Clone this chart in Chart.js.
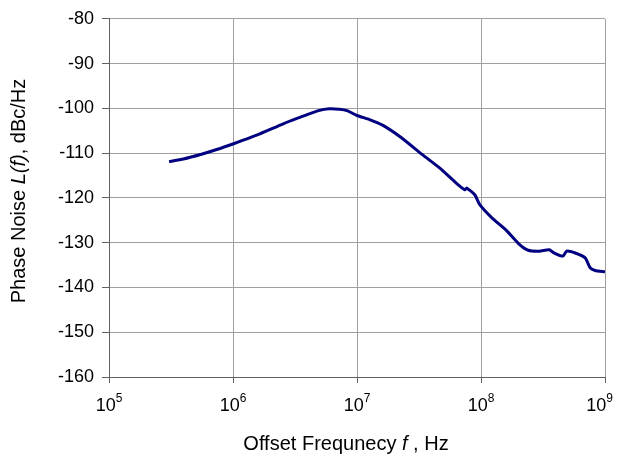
<!DOCTYPE html>
<html>
<head>
<meta charset="utf-8">
<script src="https://cdn.jsdelivr.net/npm/chart.js@4.4.1/dist/chart.umd.min.js"></script>
<style>
  html, body { margin: 0; padding: 0; background: #fff; }
  #wrap { width: 617px; height: 455px; position: relative; }
</style>
</head>
<body>
<div id="wrap"><canvas id="c" width="617" height="455"></canvas></div>
<script>
// ---- Data ----
const freqHz = [3.05e5, 3.98e5, 5.48e5, 7.4e5, 1.01e6, 1.55e6, 2.57e6, 3.72e6, 4.9e6, 6.0e6, 7.2e6, 8.3e6,
                1.0e7, 1.26e7, 1.62e7, 2.24e7, 3.39e7, 4.68e7, 6.31e7, 7.41e7, 7.67e7, 8.91e7, 9.77e7,
                1.23e8, 1.58e8, 2.04e8, 2.40e8, 2.95e8, 3.55e8, 3.89e8, 4.57e8, 4.9e8, 5.75e8, 6.92e8,
                7.59e8, 8.32e8, 1.0e9];
const phaseNoise = [-111.9, -111.3, -110.3, -109.2, -107.9, -106.0, -103.4, -101.7, -100.5, -100.1, -100.2, -100.5,
                    -101.6, -102.5, -103.8, -106.4, -110.4, -113.4, -116.7, -118.2, -117.8, -119.3, -121.5,
                    -124.5, -127.1, -130.4, -131.7, -131.9, -131.6, -132.3, -133.0, -131.9, -132.3, -133.4,
                    -135.6, -136.2, -136.5];
const xDecades = [5, 6, 7, 8, 9];
const yTicks = [-80, -90, -100, -110, -120, -130, -140, -150, -160];
const xTitleParts = [["Offset Frequnecy ", false], ["f", true], [" , Hz", false]];
const yTitleParts = [["Phase Noise ", false], ["L(f)", true], [", dBc/Hz", false]];

const FONT = '"Liberation Sans", Arial, sans-serif';

function drawParts(ctx, parts, size) {
  let total = 0;
  parts.forEach(([t, it]) => { ctx.font = (it ? 'italic ' : '') + size + 'px ' + FONT; total += ctx.measureText(t).width; });
  let x = -total / 2;
  parts.forEach(([t, it]) => { ctx.font = (it ? 'italic ' : '') + size + 'px ' + FONT; ctx.fillText(t, x, 0); x += ctx.measureText(t).width; });
}

const customText = {
  id: 'customText',
  afterDraw(chart) {
    const ctx = chart.ctx;
    const xs = chart.scales.x;
    ctx.save();
    ctx.fillStyle = '#000';
    ctx.textBaseline = 'alphabetic';
    ctx.textAlign = 'left';
    // x tick labels 10^n
    xDecades.forEach(e => {
      const px = xs.getPixelForValue(Math.pow(10, e));
      ctx.font = '18px ' + FONT;
      const wb = ctx.measureText('10').width;
      ctx.font = '12px ' + FONT;
      const we = ctx.measureText(String(e)).width;
      let start = px - (wb + we) / 2;
      if (start + wb + we > chart.width - 4) start = chart.width - 4 - wb - we;
      ctx.font = '18px ' + FONT;
      ctx.fillText('10', start, 411);
      ctx.font = '12px ' + FONT;
      ctx.fillText(String(e), start + wb, 402);
    });
    // x title
    ctx.save();
    ctx.translate(346, 450);
    drawParts(ctx, xTitleParts, 20);
    ctx.restore();
    // y title
    ctx.save();
    ctx.translate(25, 191);
    ctx.rotate(-Math.PI / 2);
    drawParts(ctx, yTitleParts, 20);
    ctx.restore();
    ctx.restore();
  }
};

new Chart(document.getElementById('c'), {
  type: 'scatter',
  data: {
    datasets: [{
      data: freqHz.map((f, i) => ({ x: f, y: phaseNoise[i] })),
      showLine: true,
      borderColor: '#000080',
      borderWidth: 3,
      pointRadius: 0,
      tension: 0.2,
      fill: false
    }]
  },
  options: {
    responsive: false,
    animation: false,
    devicePixelRatio: 1,
    layout: { padding: { top: 15, right: 12, left: 0, bottom: 0 } },
    plugins: { legend: { display: false }, tooltip: { enabled: false } },
    scales: {
      x: {
        type: 'logarithmic',
        min: 1e5, max: 1e9,
        afterBuildTicks: (s) => { s.ticks = xDecades.map(e => ({ value: Math.pow(10, e) })); },
        afterFit: (s) => { s.height = 78; },
        ticks: { callback: () => '', font: { size: 18, family: FONT } },
        grid: { color: '#a0a0a0', lineWidth: 1, tickLength: 6, tickColor: '#606060' },
        border: { color: '#606060', width: 1 }
      },
      y: {
        min: -160, max: -80,
        afterBuildTicks: (s) => { s.ticks = yTicks.map(v => ({ value: v })); },
        afterFit: (s) => { s.width = 109; },
        ticks: { color: '#000', font: { size: 18, family: FONT }, padding: 8 },
        grid: { color: '#a0a0a0', lineWidth: 1, tickLength: 7, tickColor: '#606060' },
        border: { color: '#606060', width: 1 }
      }
    }
  },
  plugins: [customText]
});
</script>
</body>
</html>
